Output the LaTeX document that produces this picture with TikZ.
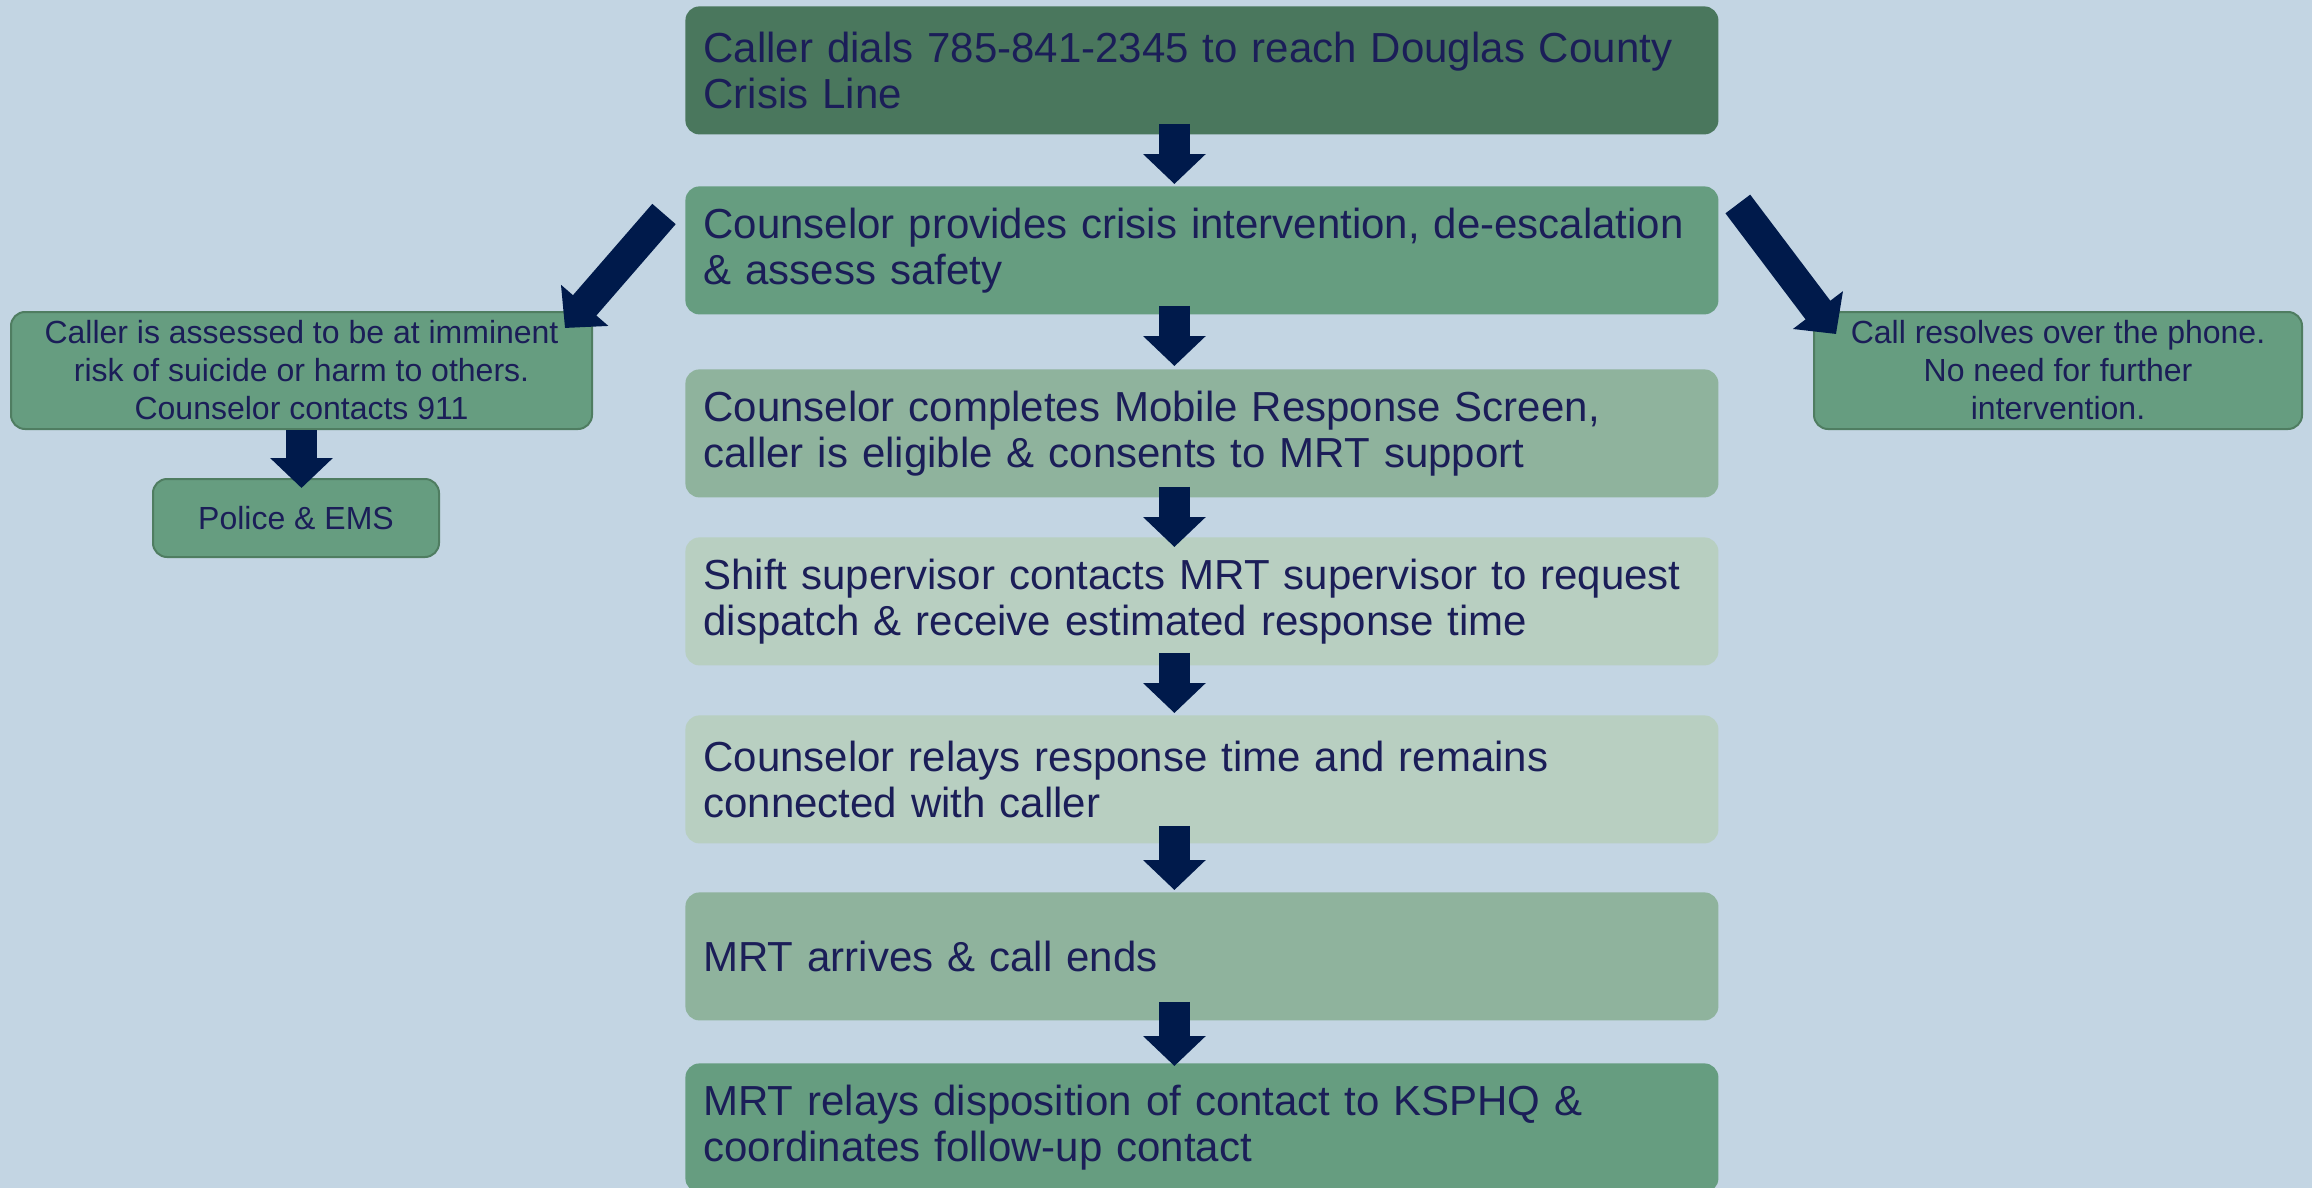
\documentclass[tikz,border=0pt]{standalone}
\usepackage{fontspec}
\setmainfont{Liberation Sans}
\usetikzlibrary{arrows.meta,calc}
\definecolor{bgc}{HTML}{C3D5E3}
\definecolor{cA}{HTML}{4A775D}
\definecolor{cB}{HTML}{669D80}
\definecolor{cC}{HTML}{8FB39D}
\definecolor{cD}{HTML}{B8CFC1}
\definecolor{sideb}{HTML}{4F7D61}
\definecolor{arr}{HTML}{001A4B}
\definecolor{txt}{HTML}{1B1E58}
\begin{document}
\begin{tikzpicture}[x=0.5pt,y=-0.5pt,
  mainbox/.style={anchor=north west, rounded corners=7pt, minimum width=516.5pt,
    text width=498.5pt, inner xsep=9pt, inner ysep=0pt, align=left,
    font=\fontsize{21pt}{23pt}\selectfont, text=txt},
  sidebox/.style={anchor=north west, rounded corners=7pt, draw=sideb, line width=1pt,
    fill=cB, align=center, font=\fontsize{16pt}{19pt}\selectfont, text=txt, inner sep=0pt},
  flow/.style={line width=15.5pt, draw=arr, -{Triangle[length=15pt,width=30.5pt]}}
]
\fill[bgc] (0,0) rectangle (2312,1188);
\useasboundingbox (0,0) rectangle (2312,1188);

\node[mainbox, fill=cA, minimum height=64pt] (b1) at (685,6)
  {Caller dials 785-841-2345 to reach Douglas County\\Crisis Line};
\node[mainbox, fill=cB, minimum height=64pt] (b2) at (685,186)
  {Counselor provides crisis intervention, de-escalation\\\& assess safety};
\node[mainbox, fill=cC, minimum height=64pt] (b3) at (685,369)
  {Counselor completes Mobile Response Screen,\\caller is eligible \& consents to MRT support};
\node[mainbox, fill=cD, minimum height=64pt] (b4) at (685,537)
  {Shift supervisor contacts MRT supervisor to request\\dispatch \& receive estimated response time};
\node[mainbox, fill=cD, minimum height=64pt] (b5) at (685,715)
  {Counselor relays response time and remains\\connected with caller};
\node[mainbox, fill=cC, minimum height=64pt] (b6) at (685,892)
  {MRT arrives \& call ends};
\node[mainbox, fill=cB, minimum height=64.5pt] (b7) at (685,1063)
  {MRT relays disposition of contact to KSPHQ \&\\coordinates follow-up contact};

\node[sidebox, minimum width=290.5pt, minimum height=58.5pt] (lbox) at (10,311)
  {Caller is assessed to be at imminent\\risk of suicide or harm to others.\\Counselor contacts 911};
\node[sidebox, minimum width=143pt, minimum height=39pt] (pol) at (152,478)
  {Police \& EMS};
\node[sidebox, minimum width=244pt, minimum height=58.5pt] (rbox) at (1813,311)
  {Call resolves over the phone.\\No need for further\\intervention.};

\draw[flow] ($(b1.south)+(-27.5,-11)$) -- ($(b2.north)+(-27.5,-2)$);
\draw[flow] ($(b2.south)+(-27.5,-9)$) -- ($(b3.north)+(-27.5,-3)$);
\draw[flow] ($(b3.south)+(-27.5,-11)$) -- ($(b4.north)+(-27.5,10)$);
\draw[flow] ($(b4.south)+(-27.5,-13)$) -- ($(b5.north)+(-27.5,-2)$);
\draw[flow] ($(b5.south)+(-27.5,-18)$) -- ($(b6.north)+(-27.5,-2)$);
\draw[flow] ($(b6.south)+(-27.5,-19)$) -- ($(b7.north)+(-27.5,3)$);

\draw[flow] ($(b2.north west)+(-21,28)$) -- ($(lbox.north east)+(-28,17)$);
\draw[flow] ($(b2.north east)+(19,18)$) -- ($(rbox.north west)+(23,23)$);
\draw[flow] (lbox.south) -- ($(lbox.south |- pol.north)+(0,10)$);
\end{tikzpicture}
\end{document}
